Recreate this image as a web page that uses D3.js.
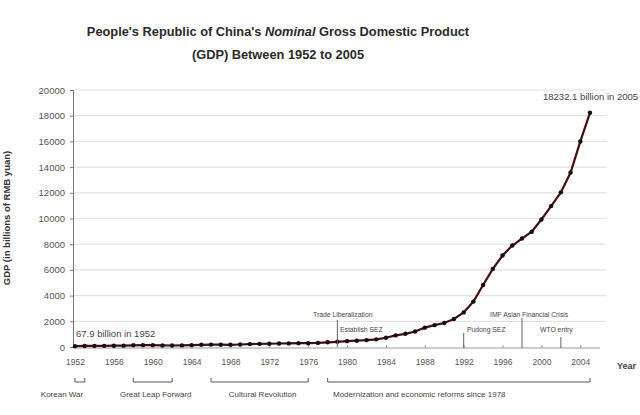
<!DOCTYPE html>
<html><head><meta charset="utf-8">
<script src="https://cdn.jsdelivr.net/npm/d3@7"></script>
<style>body{margin:0;background:#fff}</style>
</head><body><svg id="c" width="640" height="415"></svg>
<script>
const years = d3.range(1952, 2006);
const gdp = [67.9,82.4,85.9,91.0,102.8,106.8,130.7,143.9,145.7,122.0,114.9,123.3,145.4,171.6,186.8,177.4,172.3,193.8,225.3,242.6,251.8,272.1,279.0,299.7,294.4,320.2,364.5,406.3,454.6,489.2,532.3,596.3,720.8,901.6,1027.5,1205.9,1504.3,1699.2,1866.8,2178.2,2692.4,3533.4,4819.8,6079.4,7117.7,7897.3,8440.2,8967.7,9921.5,10965.5,12033.3,13582.3,15987.8,18232.1];
const yTicks = [0,2000,4000,6000,8000,10000,12000,14000,16000,18000,20000];
const xTicks = [1952,1956,1960,1964,1968,1972,1976,1980,1984,1988,1992,1996,2000,2004];
const eventNames = ["Trade Liberalization","Establish SEZ","Pudong SEZ","IMF Asian Financial Crisis","WTO entry"];
const eventYears = [1979, null, 1992, 1998, 2002];
const periodNames = ["Korean War","Great Leap Forward","Cultural Revolution","Modernization and economic reforms since 1978"];
const periodStart = [1952,1958,1966,1978];
const periodEnd = [1953,1962,1976,2005];

const svg = d3.select("#c");
const x = d3.scaleLinear().domain([1952,2005]).range([75,590]);
const y = d3.scaleLinear().domain([0,20000]).range([347,90]);
const font = "Liberation Sans, Arial, sans-serif";

// title
const t = svg.append("text").attr("x",278).attr("y",36).attr("text-anchor","middle")
  .attr("font-family",font).attr("font-weight","bold").attr("font-size",12.8).attr("fill","#2a2a2a");
t.append("tspan").text("People's Republic of China's ");
t.append("tspan").attr("font-style","italic").text("Nominal");
t.append("tspan").text(" Gross Domestic Product");
svg.append("text").attr("x",278).attr("y",59).attr("text-anchor","middle")
  .attr("font-family",font).attr("font-weight","bold").attr("font-size",12.8).attr("fill","#2a2a2a")
  .text("(GDP) Between 1952 to 2005");

// grid
svg.append("g").selectAll("line").data(yTicks.filter(d=>d>0)).join("line")
  .attr("x1",73).attr("x2",606).attr("y1",d=>y(d)).attr("y2",d=>y(d))
  .attr("stroke","#e2e2e2").attr("stroke-width",1.2);

// y axis
const ya = svg.append("g").attr("transform","translate(73,0)")
  .call(d3.axisLeft(y).tickValues(yTicks).tickSize(3).tickPadding(5).tickFormat(d3.format("d")));
ya.select(".domain").attr("stroke","#777");
ya.selectAll(".tick line").attr("stroke","#777");
ya.selectAll("text").attr("font-family",font).attr("font-size",9.5).attr("fill","#555");

// x axis
const xa = svg.append("g").attr("transform","translate(0,348)")
  .call(d3.axisBottom(x).tickValues(xTicks).tickSize(3).tickPadding(8).tickFormat(d3.format("d")));
xa.select(".domain").attr("stroke","#999").attr("d","M73,0H600");
xa.selectAll(".tick line").attr("stroke","#999").attr("y1",-3).attr("y2",0);
xa.selectAll("text").attr("font-family",font).attr("font-size",8.5).attr("fill","#555");

svg.append("text").attr("x",617).attr("y",369).attr("font-family",font).attr("font-size",9)
  .attr("font-weight","bold").attr("fill","#444").text("Year");

// y label
svg.append("text").attr("transform","translate(10,218) rotate(-90)").attr("text-anchor","middle")
  .attr("font-family",font).attr("font-size",9.5).attr("font-weight","bold").attr("fill","#333")
  .text("GDP (in billions of RMB yuan)");

// line
const data = years.map((yr,i)=>({yr, v:gdp[i]}));
svg.append("path").datum(data).attr("fill","none").attr("stroke","#4a0d0d").attr("stroke-width",2.2)
  .attr("d",d3.line().x(d=>x(d.yr)).y(d=>y(d.v)));
svg.append("g").selectAll("circle").data(data).join("circle")
  .attr("cx",d=>x(d.yr)).attr("cy",d=>y(d.v)).attr("r",2.2).attr("fill","#111");

// point labels
svg.append("text").attr("x",76).attr("y",337).attr("font-family",font).attr("font-size",9.5).attr("fill","#444")
  .text("67.9 billion in 1952");
svg.append("text").attr("x",543).attr("y",100).attr("font-family",font).attr("font-size",9.5).attr("fill","#444")
  .text("18232.1 billion in 2005");

// events
const evG = svg.append("g").attr("font-family",font).attr("font-size",6.8).attr("fill","#444");
const evText = [[313,317],[340,332],[467,332],[490,317],[540,332]];
const evLine = [[320,347],null,[333,348],[318,348],[337,348]];
eventNames.forEach((n,i)=>{
  evG.append("text").attr("x",evText[i][0]).attr("y",evText[i][1]).text(n);
  if(eventYears[i]!==null){
    svg.append("line").attr("x1",x(eventYears[i])).attr("x2",x(eventYears[i]))
      .attr("y1",evLine[i][0]).attr("y2",evLine[i][1]).attr("stroke","#666").attr("stroke-width",1);
  }
});

// periods
const pG = svg.append("g");
const pLabelX = [62, null, null, 333];
periodNames.forEach((n,i)=>{
  const x0 = x(periodStart[i]), x1 = x(periodEnd[i]);
  pG.append("path").attr("d",`M${x0},378V382H${x1}V378`).attr("fill","none").attr("stroke","#555").attr("stroke-width",1);
  pG.append("text").attr("x",i===3?333:(i===0?62:(x0+x1)/2+3)).attr("y",397).attr("text-anchor",i===3?"start":"middle")
    .attr("font-family",font).attr("font-size",8).attr("fill","#444").text(n);
});
</script></body></html>
